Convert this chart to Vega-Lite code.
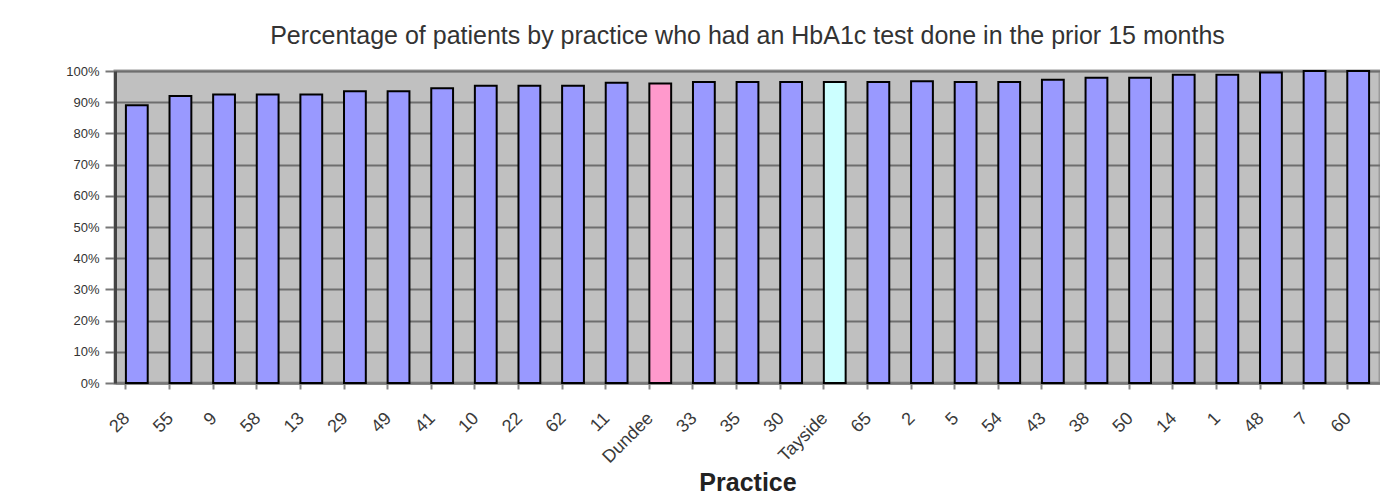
{
  "$schema": "https://vega.github.io/schema/vega-lite/v6.json",
  "autosize": {"type": "none"},
  "padding": {"left": 115, "top": 71, "right": 0, "bottom": 120},
  "width": 1265,
  "height": 312,
  "background": "#ffffff",
  "title": {
    "text": "Percentage of patients by practice who had an HbA1c test done in the prior 15 months",
    "font": "Liberation Sans",
    "fontSize": 25,
    "fontWeight": "normal",
    "color": "#333333",
    "anchor": "middle",
    "offset": 16
  },
  "config": {
    "view": {"fill": "#c0c0c0", "stroke": "#9a9a9a", "strokeWidth": 3},
    "axis": {"labelFont": "Liberation Sans", "titleFont": "Liberation Sans"}
  },
  "data": {
    "values": [
      {"practice": "28", "pct": 0.89, "type": "Practice"},
      {"practice": "55", "pct": 0.92, "type": "Practice"},
      {"practice": "9", "pct": 0.925, "type": "Practice"},
      {"practice": "58", "pct": 0.925, "type": "Practice"},
      {"practice": "13", "pct": 0.925, "type": "Practice"},
      {"practice": "29", "pct": 0.935, "type": "Practice"},
      {"practice": "49", "pct": 0.935, "type": "Practice"},
      {"practice": "41", "pct": 0.945, "type": "Practice"},
      {"practice": "10", "pct": 0.953, "type": "Practice"},
      {"practice": "22", "pct": 0.953, "type": "Practice"},
      {"practice": "62", "pct": 0.953, "type": "Practice"},
      {"practice": "11", "pct": 0.962, "type": "Practice"},
      {"practice": "Dundee", "pct": 0.96, "type": "Dundee"},
      {"practice": "33", "pct": 0.965, "type": "Practice"},
      {"practice": "35", "pct": 0.965, "type": "Practice"},
      {"practice": "30", "pct": 0.965, "type": "Practice"},
      {"practice": "Tayside", "pct": 0.965, "type": "Tayside"},
      {"practice": "65", "pct": 0.965, "type": "Practice"},
      {"practice": "2", "pct": 0.967, "type": "Practice"},
      {"practice": "5", "pct": 0.965, "type": "Practice"},
      {"practice": "54", "pct": 0.965, "type": "Practice"},
      {"practice": "43", "pct": 0.972, "type": "Practice"},
      {"practice": "38", "pct": 0.978, "type": "Practice"},
      {"practice": "50", "pct": 0.978, "type": "Practice"},
      {"practice": "14", "pct": 0.988, "type": "Practice"},
      {"practice": "1", "pct": 0.988, "type": "Practice"},
      {"practice": "48", "pct": 0.995, "type": "Practice"},
      {"practice": "7", "pct": 1.0, "type": "Practice"},
      {"practice": "60", "pct": 1.0, "type": "Practice"}
    ]
  },
  "mark": {"type": "bar", "stroke": "#000000", "strokeWidth": 2},
  "encoding": {
    "x": {
      "field": "practice",
      "type": "nominal",
      "sort": null,
      "scale": {"paddingInner": 0.5, "paddingOuter": 0.25},
      "axis": {
        "title": "Practice",
        "titleFontSize": 25,
        "titleFontWeight": "bold",
        "titleColor": "#222222",
        "titlePadding": 4,
        "labelAngle": -45,
        "labelFontSize": 18,
        "labelColor": "#3a3a3a",
        "labelPadding": 20,
        "labelOffset": -16,
        "domainColor": "#777777",
        "domainWidth": 2,
        "tickColor": "#888888",
        "tickSize": 6,
        "tickWidth": 2,
        "bandPosition": 0
      }
    },
    "y": {
      "field": "pct",
      "type": "quantitative",
      "scale": {"domain": [0, 1], "nice": false},
      "axis": {
        "title": null,
        "values": [0, 0.1, 0.2, 0.3, 0.4, 0.5, 0.6, 0.7, 0.8, 0.9, 1],
        "format": ".0%",
        "labelFontSize": 13,
        "labelColor": "#333333",
        "labelPadding": 6,
        "tickSize": 10,
        "tickColor": "#777777",
        "tickWidth": 2,
        "domainColor": "#444444",
        "domainWidth": 3,
        "grid": true,
        "gridColor": "#6e6e6e",
        "gridWidth": 2
      }
    },
    "color": {
      "field": "type",
      "type": "nominal",
      "scale": {"domain": ["Practice", "Dundee", "Tayside"], "range": ["#9999ff", "#ff99cc", "#ccffff"]},
      "legend": null
    }
  }
}
